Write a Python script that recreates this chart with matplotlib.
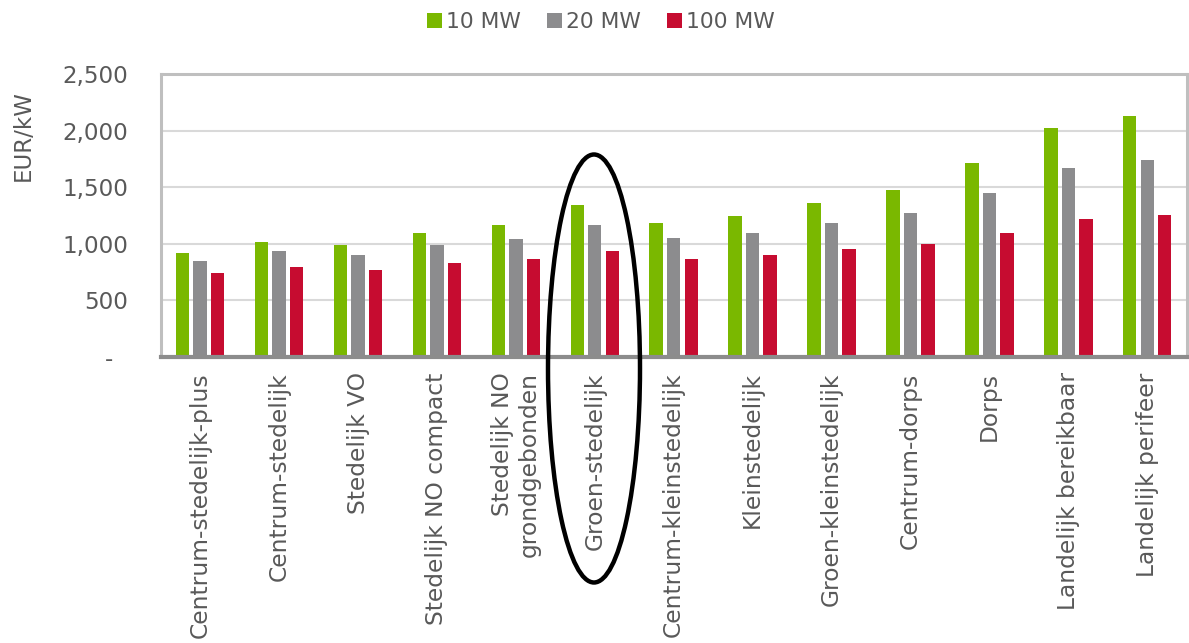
import matplotlib
matplotlib.use("Agg")
import matplotlib.pyplot as plt
import numpy as np
from matplotlib.patches import Ellipse, Patch

categories = ["Centrum-stedelijk-plus", "Centrum-stedelijk", "Stedelijk VO",
              "Stedelijk NO compact", "Stedelijk NO\ngrondgebonden", "Groen-stedelijk",
              "Centrum-kleinstedelijk", "Kleinstedelijk", "Groen-kleinstedelijk",
              "Centrum-dorps", "Dorps", "Landelijk bereikbaar", "Landelijk perifeer"]
mw10 = [920, 1020, 985, 1093, 1169, 1342, 1181, 1242, 1362, 1471, 1714, 2025, 2125]
mw20 = [844, 932, 897, 985, 1043, 1169, 1055, 1096, 1187, 1268, 1450, 1673, 1743]
mw100 = [741, 797, 771, 829, 864, 940, 870, 899, 952, 996, 1099, 1219, 1257]
series_names = ["10 MW", "20 MW", "100 MW"]
colors = ["#7AB800", "#8C8C8E", "#C60C30"]
yticks = [0, 500, 1000, 1500, 2000, 2500]
ytick_labels = ["-  ", "500", "1,000", "1,500", "2,000", "2,500"]

text_color = "#595959"
fig = plt.figure(figsize=(11.89, 6.43), dpi=100)
ax = fig.add_axes([160.7/1189, 1-357/643, (1186.7-160.7)/1189, (357-74)/643])

x = np.arange(len(categories))
w = 0.17
off = 0.222
for i, (vals, c) in enumerate(zip([mw10, mw20, mw100], colors)):
    ax.bar(x + (i-1)*off, vals, width=w, color=c, zorder=3)

ax.set_xlim(-0.5, len(categories)-0.5)
ax.set_ylim(0, 2500)
ax.set_yticks(yticks)
ax.set_yticklabels(ytick_labels)
ax.set_xticks(x)
ax.set_xticklabels(categories, rotation=90, ha="center", va="top", multialignment="right")
ax.tick_params(axis="y", length=0, pad=23.5, labelsize=16.6, labelcolor=text_color)
ax.tick_params(axis="x", length=0, pad=11, labelsize=16.8, labelcolor=text_color)
ax.yaxis.grid(True, color="#D9D9D9", linewidth=1.5, zorder=0)
ax.set_axisbelow(True)
for s in ["left", "top", "right"]:
    ax.spines[s].set_color("#BFBFBF")
    ax.spines[s].set_linewidth(2.2)
ax.spines["bottom"].set_color("#8C8C8C")
ax.spines["bottom"].set_linewidth(3)
ax.spines["bottom"].set_zorder(4)

fig.text(23/1189, 1-136/643, "EUR/kW", rotation=90, ha="center", va="center",
         fontsize=16.5, color=text_color)

handles = [Patch(facecolor=c, edgecolor="none") for c in colors]
fig.legend(handles, series_names, loc="center", bbox_to_anchor=(601/1189, 1-22/643),
           ncol=3, frameon=False, fontsize=15.7, handlelength=0.68, handleheight=0.68,
           handletextpad=0.2, columnspacing=1.2, labelcolor=text_color)

ell = Ellipse((594/1189, 1-368.5/643), 92/1189, 428/643, transform=fig.transFigure,
              fill=False, edgecolor="black", linewidth=3.2, zorder=10)
fig.patches.append(ell)

fig.savefig("out.png", dpi=100)
